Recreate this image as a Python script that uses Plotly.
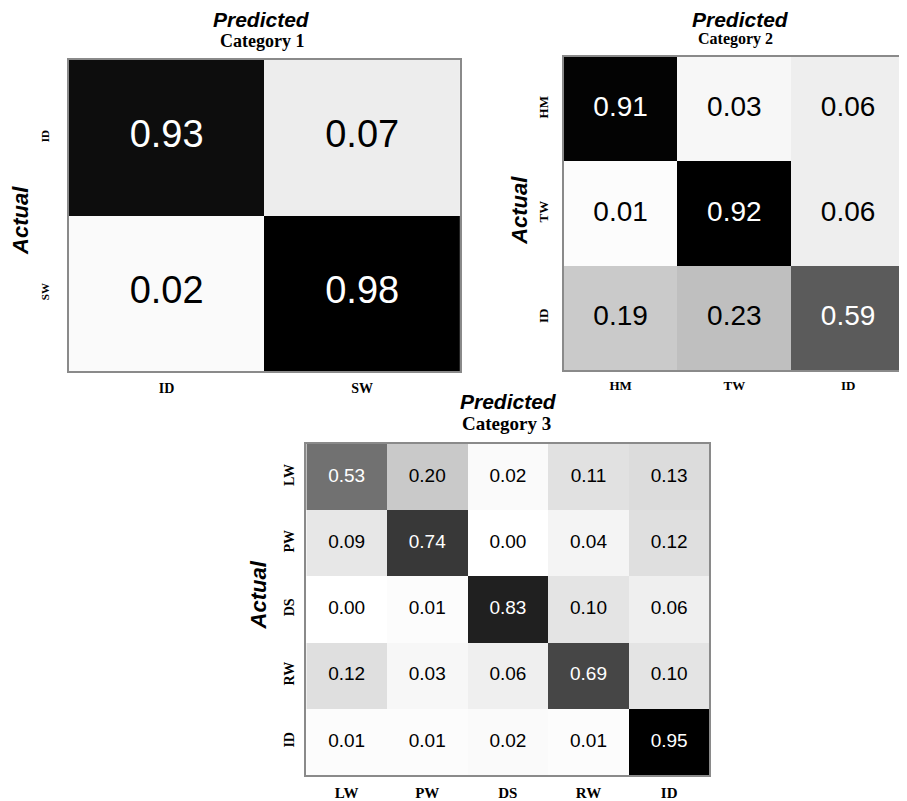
import plotly.graph_objects as go

# ---- data ----
cat1_labels = ["ID", "SW"]
cat1_values = [[0.93, 0.07],
               [0.02, 0.98]]

cat2_labels = ["HM", "TW", "ID"]
cat2_values = [[0.91, 0.03, 0.06],
               [0.01, 0.92, 0.06],
               [0.19, 0.23, 0.59]]

cat3_labels = ["LW", "PW", "DS", "RW", "ID"]
cat3_values = [[0.53, 0.20, 0.02, 0.11, 0.13],
               [0.09, 0.74, 0.00, 0.04, 0.12],
               [0.00, 0.01, 0.83, 0.10, 0.06],
               [0.12, 0.03, 0.06, 0.69, 0.10],
               [0.01, 0.01, 0.02, 0.01, 0.95]]

# page body has an 8px margin -> figure is drawn 8px in from the window edge
OFF = 8
W, H = 907 - OFF, 801 - OFF
GRAY = [[0, "#ffffff"], [1, "#000000"]]


def px(x):
    return min(max((x - OFF) / W, 0.0), 1.0)


def py(y):
    return min(max(1 - (y - OFF) / H, 0.0), 1.0)


panels = [
    dict(labels=cat1_labels, z=cat1_values, s="", box=(69, 461, 60, 371), nf=38, ytf=11, xtf=14, ytl=14),
    dict(labels=cat2_labels, z=cat2_values, s="2", box=(565, 907, 57, 370), nf=28, ytf=13, xtf=13, ytl=9),
    dict(labels=cat3_labels, z=cat3_values, s="3", box=(307, 711, 444, 775), nf=19, ytf=14, xtf=15, ytl=5),
]

fig = go.Figure()
layout = {}
for p in panels:
    labs, z, s = p["labels"], p["z"], p["s"]
    zmax = max(max(r) for r in z)
    fig.add_trace(go.Heatmap(
        x=labs, y=labs, z=z, zmin=0, zmax=zmax, colorscale=GRAY,
        showscale=False, xgap=0, ygap=0, hoverinfo="skip",
        xaxis="x" + s, yaxis="y" + s))
    xs, ys, ts, cs = [], [], [], []
    for i, row in enumerate(z):
        for j, v in enumerate(row):
            xs.append(labs[j]); ys.append(labs[i]); ts.append(f"{v:.2f}")
            cs.append("white" if v / zmax > 0.5 else "black")
    fig.add_trace(go.Scatter(
        x=xs, y=ys, text=ts, mode="text",
        textfont=dict(family="Liberation Sans, Arial", size=p["nf"], color=cs),
        showlegend=False, hoverinfo="skip", xaxis="x" + s, yaxis="y" + s))
    x0, x1, yt, yb = p["box"]
    layout["xaxis" + s] = dict(
        domain=[px(x0), px(x1)], anchor="y" + s,
        showgrid=False, zeroline=False, showline=True, mirror=True,
        linecolor="#8a8a8a", linewidth=1.5,
        ticks="outside", ticklen=3, tickcolor="rgba(0,0,0,0)",
        tickfont=dict(family="Liberation Serif, Times New Roman", size=p["xtf"],
                      color="black", weight="bold"),
        fixedrange=True)
    layout["yaxis" + s] = dict(
        domain=[py(yb), py(yt)], anchor="x" + s, autorange="reversed",
        showgrid=False, zeroline=False, showline=True, mirror=True,
        linecolor="#8a8a8a", linewidth=1.5,
        ticks="outside", ticklen=p["ytl"], tickcolor="rgba(0,0,0,0)", tickangle=-90,
        tickfont=dict(family="Liberation Serif, Times New Roman", size=p["ytf"],
                      color="black", weight="bold"),
        fixedrange=True)

ann = []


def add_text(x, y, text, size, family, angle=0):
    ann.append(dict(x=px(x), y=py(y), xref="paper", yref="paper",
                    text=text, showarrow=False, textangle=angle,
                    xanchor="center", yanchor="middle",
                    font=dict(family=family, size=size, color="black")))


SANS = "Liberation Sans, Arial"
SERIF = "Liberation Serif, Times New Roman"
add_text(262, 20, "<b><i>Predicted</i></b>", 21, SANS)
add_text(263, 41, "<b>Category 1</b>", 18, SERIF)
add_text(742, 20, "<b><i>Predicted</i></b>", 21, SANS)
add_text(737, 39, "<b>Category 2</b>", 16, SERIF)
add_text(510, 401, "<b><i>Predicted</i></b>", 21, SANS)
add_text(508, 423, "<b>Category 3</b>", 19, SERIF)
add_text(20, 220, "<b><i>Actual</i></b>", 22, SANS, -90)
add_text(520, 210, "<b><i>Actual</i></b>", 22, SANS, -90)
add_text(259, 595, "<b><i>Actual</i></b>", 22, SANS, -90)

fig.update_layout(
    width=W, height=H, margin=dict(l=0, r=0, t=0, b=0),
    paper_bgcolor="white", plot_bgcolor="white",
    showlegend=False, annotations=ann, **layout)

fig.write_html("out.html")
